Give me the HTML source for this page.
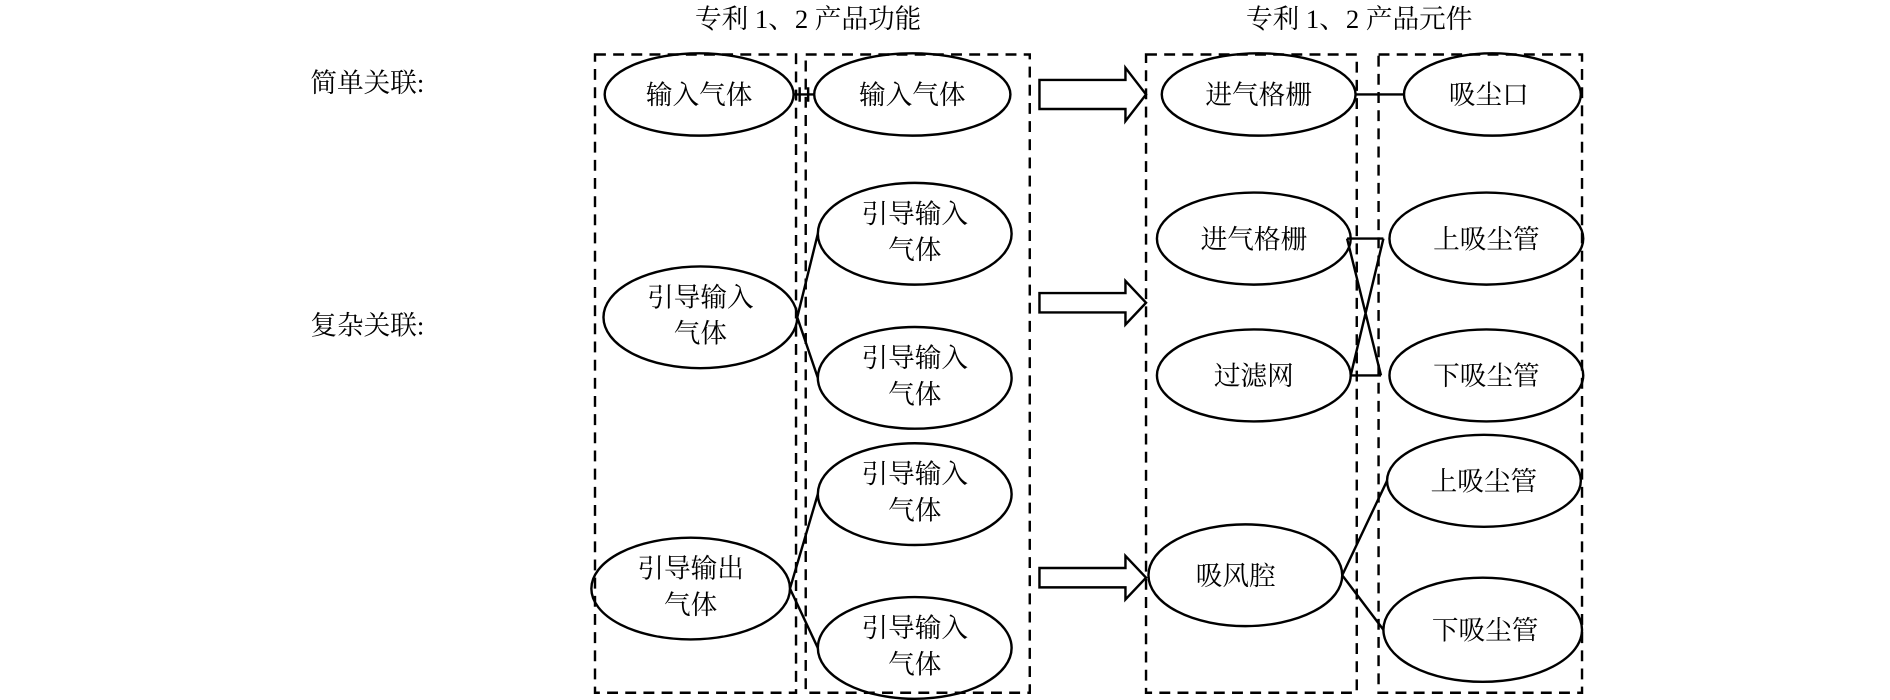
<!DOCTYPE html>
<html><head><meta charset="utf-8"><style>html,body{margin:0;padding:0;background:#fff}svg{display:block}</style></head>
<body>
<svg width="1890" height="700" viewBox="0 0 1560 578" xmlns="http://www.w3.org/2000/svg" font-family="'Liberation Serif','Noto Serif CJK SC','Noto Sans CJK SC',serif">
<rect width="1560" height="578" fill="#fff"/>
<g font-size="22" fill="#000" text-anchor="middle">
<text x="667" y="23">专利 1、2 产品功能</text>
<text x="1122" y="23">专利 1、2 产品元件</text>
</g>
<g font-size="22" fill="#000">
<text x="256" y="76">简单关联:</text>
<text x="256" y="276">复杂关联:</text>
</g>
<g fill="none" stroke="#000" stroke-width="2" stroke-dasharray="9,6">
<rect x="491" y="45" width="166" height="527"/>
<rect x="665" y="45" width="185" height="527"/>
<rect x="946" y="45" width="174" height="527"/>
<rect x="1138" y="45" width="168" height="527"/>
</g>
<g fill="none" stroke="#000" stroke-width="2">
<ellipse cx="577" cy="78" rx="78" ry="34"/>
<ellipse cx="753" cy="78" rx="81" ry="34"/>
<ellipse cx="755" cy="193" rx="80" ry="42"/>
<ellipse cx="578" cy="262" rx="80" ry="42"/>
<ellipse cx="755" cy="312" rx="80" ry="42"/>
<ellipse cx="755" cy="408" rx="80" ry="42"/>
<ellipse cx="570" cy="486" rx="82" ry="42"/>
<ellipse cx="755" cy="535" rx="80" ry="42"/>
<ellipse cx="1039" cy="78" rx="80" ry="34"/>
<ellipse cx="1232" cy="78" rx="73" ry="34"/>
<ellipse cx="1035" cy="197" rx="80" ry="38"/>
<ellipse cx="1227" cy="197" rx="80" ry="38"/>
<ellipse cx="1035" cy="310" rx="80" ry="38"/>
<ellipse cx="1227" cy="310" rx="80" ry="38"/>
<ellipse cx="1225" cy="397" rx="80" ry="38"/>
<ellipse cx="1028" cy="475" rx="80" ry="42"/>
<ellipse cx="1224" cy="520" rx="82" ry="43"/>
<!-- connectors -->
<path d="M655 78H672M660 72V84M667 72V84"/>
<path d="M658 262L675 193M658 262L675 312"/>
<path d="M652 486L675 408M652 486L675 535"/>
<path d="M1119 78H1159"/>
<path d="M1112 197H1142M1115 310H1140M1112 197L1140 310M1142 197L1115 310"/>
<path d="M1108 475L1145 397M1108 475L1142 520"/>
<!-- arrows -->
<path d="M858 72H929V62L946 84L929 106V96H858Z" transform="translate(0,-6)"/>
<path d="M858 242H929V232L946 250L929 268V258H858Z"/>
<path d="M858 469H929V459L946 477L929 495V485H858Z"/>
</g>
<g font-size="22" fill="#000" text-anchor="middle">
<text x="577" y="86">输入气体</text>
<text x="753" y="86">输入气体</text>
<text x="755" y="184">引导输入</text><text x="755" y="214">气体</text>
<text x="578" y="253">引导输入</text><text x="578" y="283">气体</text>
<text x="755" y="303">引导输入</text><text x="755" y="333">气体</text>
<text x="755" y="399">引导输入</text><text x="755" y="429">气体</text>
<text x="570" y="477">引导输出</text><text x="570" y="507">气体</text>
<text x="755" y="526">引导输入</text><text x="755" y="556">气体</text>
<text x="1039" y="86">进气格栅</text>
<text x="1229" y="86">吸尘口</text>
<text x="1035" y="205">进气格栅</text>
<text x="1227" y="205">上吸尘管</text>
<text x="1035" y="318">过滤网</text>
<text x="1227" y="318">下吸尘管</text>
<text x="1225" y="405">上吸尘管</text>
<text x="1020" y="483">吸风腔</text>
<text x="1226" y="528">下吸尘管</text>
</g>
</svg>
</body></html>
